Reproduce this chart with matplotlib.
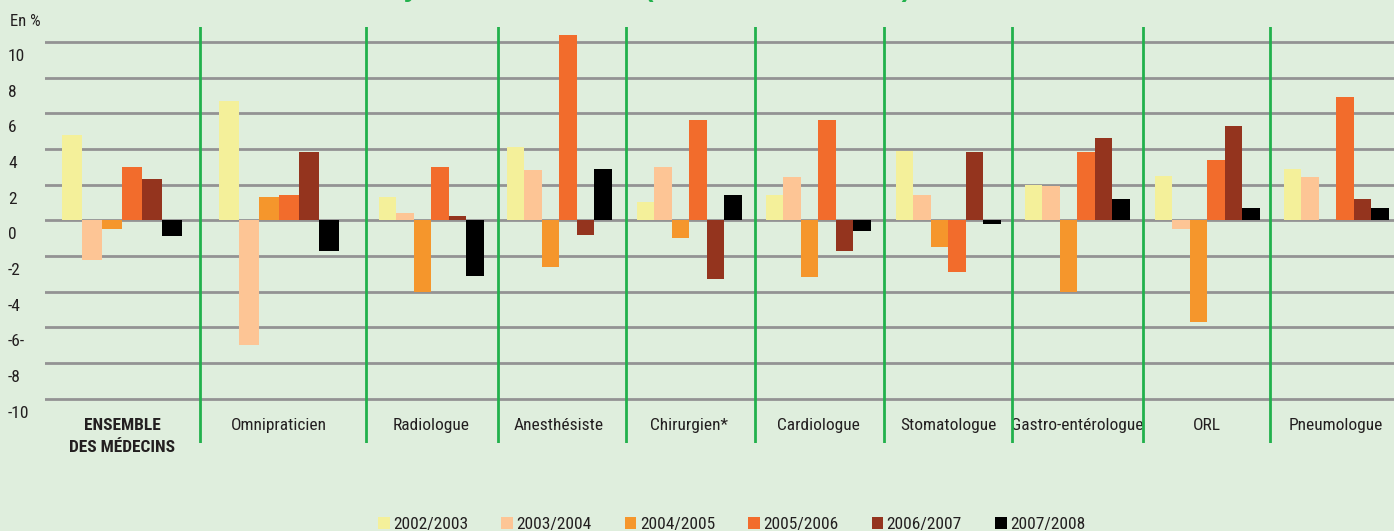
import numpy as np
import matplotlib
matplotlib.use("Agg")
import matplotlib.pyplot as plt
import matplotlib.transforms as mtransforms
from matplotlib.patches import Rectangle

# data (in %)
categories = ["ENSEMBLE\nDES MÉDECINS", "Omnipraticien", "Radiologue", "Anesthésiste",
              "Chirurgien*", "Cardiologue", "Stomatologue", "Gastro-entérologue",
              "ORL", "Pneumologue"]
periods = ["2002/2003", "2003/2004", "2004/2005", "2005/2006", "2006/2007", "2007/2008"]
v_2002_2003 = [4.8, 6.7, 1.3, 4.1, 1.0, 1.4, 3.9, 2.0, 2.5, 2.9]
v_2003_2004 = [-2.2, -7.0, 0.4, 2.8, 3.0, 2.4, 1.4, 1.9, -0.5, 2.4]
v_2004_2005 = [-0.5, 1.3, -4.0, -2.6, -1.0, -3.2, -1.5, -4.0, -5.7, np.nan]
v_2005_2006 = [3.0, 1.4, 3.0, 10.4, 5.6, 5.6, -2.9, 3.8, 3.4, 6.9]
v_2006_2007 = [2.3, 3.8, 0.25, -0.8, -3.3, -1.7, 3.8, 4.6, 5.3, 1.2]
v_2007_2008 = [-0.9, -1.7, -3.1, 2.9, 1.4, -0.6, -0.2, 1.2, 0.7, 0.7]
series = [v_2002_2003, v_2003_2004, v_2004_2005, v_2005_2006, v_2006_2007, v_2007_2008]
ytick_values = [10, 8, 6, 4, 2, 0, -2, -4, -6, -8, -10]
ytick_labels = ["10", "8", "6", "4", "2", "0", "-2", "-4", "-6-", "-8", "-10"]
title = "Évolution du revenu libéral moyen des médecins (en euros constants)"

# layout (x in pixel-like units)
centers = [122, 279, 431, 559, 689, 818, 948, 1077, 1207, 1336]
bar_w = [20, 20, 17.5, 17.5, 17.5, 17.5, 17.5, 17.5, 17.5, 17.5]
separators = [200, 366, 498, 626, 755, 884, 1012, 1143, 1270]
colors = ["#f4f09a", "#fdc595", "#f5962c", "#f26c2c", "#94341e", "#000000"]
bg = "#dfeedd"
green = "#22b14c"
txt = "#231f20"

plt.rcParams["font.family"] = ["Roboto Condensed", "DejaVu Sans"]

W, H = 1394, 531
fig = plt.figure(figsize=(W / 100, H / 100), dpi=100, facecolor=bg)
top_px, bot_px = 27, 443
ax = fig.add_axes([45 / W, (H - bot_px) / H, (W - 45) / W, (bot_px - top_px) / H])
ax.set_facecolor(bg)
zero_px, px_per_unit = 220.3, 17.85
ax.set_ylim((zero_px - bot_px) / px_per_unit, (zero_px - top_px) / px_per_unit)
ax.set_xlim(45, W)
for s in ax.spines.values():
    s.set_visible(False)
ax.set_xticks([])
ax.set_yticks([])

for v in ytick_values:
    ax.axhline(v, color="#939393", lw=2.0, zorder=1)

n = len(series)
for i, (vals, c) in enumerate(zip(series, colors)):
    xs = [cx + (i - (n - 1) / 2) * w for cx, w in zip(centers, bar_w)]
    ax.bar(xs, vals, width=bar_w, color=c, zorder=3, label=periods[i])

for sx in separators:
    ax.axvline(sx, color=green, lw=2.0, zorder=4)

# y labels sit a bit below their gridlines, as in the original
trans = mtransforms.blended_transform_factory(fig.transFigure, ax.transData) + \
    mtransforms.ScaledTranslation(0, -0.145, fig.dpi_scale_trans)
for v, lab in zip(ytick_values, ytick_labels):
    ax.text(8 / W, v, lab, transform=trans, ha="left", va="center", fontsize=12.5,
            color=txt, clip_on=False)
fig.text(10 / W, 1 - 21 / H, "En %", ha="left", va="center", fontsize=12, color=txt)

# category labels
for cx, cat in zip(centers, categories):
    bold = cat.startswith("ENSEMBLE")
    for k, line in enumerate(cat.split("\n")):
        ax.text(cx, (zero_px - 430 - 22 * k) / px_per_unit, line, ha="center",
                va="baseline", fontsize=12.5, fontweight="bold" if bold else "normal",
                color=txt, clip_on=False)

# title, almost entirely above the top edge (only its bottom shows)
fig.text(8 / W, 1 + 3.5 / H, title, ha="left", va="baseline", fontsize=19.5,
         fontweight="bold", color=green, family=["Liberation Sans", "DejaVu Sans"])

# legend
leg_x0, leg_dx = 378, 123.4
for i, (p, c) in enumerate(zip(periods, colors)):
    x = leg_x0 + i * leg_dx
    fig.patches.append(Rectangle((x / W, (H - 529) / H), 11.5 / W, 12 / H,
                                 transform=fig.transFigure, facecolor=c, edgecolor="none"))
    fig.text((x + 15) / W, (H - 529) / H, p, ha="left", va="baseline", fontsize=12.5,
             color=txt)

fig.savefig("out.png", dpi=100, facecolor=bg)
